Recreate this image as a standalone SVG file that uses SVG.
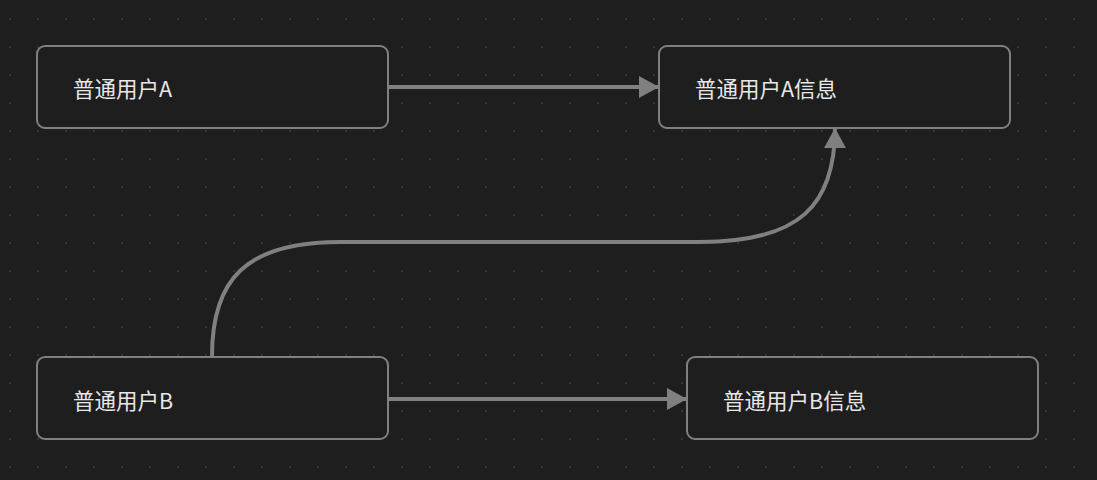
<svg xmlns="http://www.w3.org/2000/svg" width="1097" height="480" viewBox="0 0 1097 480">
<defs>
<pattern id="dots" x="9" y="18" width="28" height="28" patternUnits="userSpaceOnUse"><circle cx="1" cy="1" r="1" fill="#3a3a3a"/></pattern>
<marker id="ah2" viewBox="0 0 10 10" refX="10" refY="5" markerWidth="20" markerHeight="22" markerUnits="userSpaceOnUse" orient="auto" preserveAspectRatio="none"><path d="M0,0 L10,5 L0,10 z" fill="#808080"/></marker>
</defs>
<style>
.n rect{fill:#1e1e1e;stroke:#808080;stroke-width:2}
.n text{font-family:"Noto Sans CJK SC","Liberation Sans",sans-serif;font-size:21.5px;fill:#e8e8e8;dominant-baseline:central}
.c path{fill:none;stroke:#808080;stroke-width:4}
</style>
<rect width="1097" height="480" fill="#1e1e1e"/>
<rect width="1097" height="480" fill="url(#dots)"/>
<g class="c">
<path d="M389,87 L659,87" marker-end="url(#ah2)"/>
<path d="M389,399 L687,399" marker-end="url(#ah2)"/>
<path d="M212,356 C212,280 245,242 340,242 L700,242 C800,242 835,205 835,128" marker-end="url(#ah2)"/>
</g>
<g id="userA" class="n"><rect x="37" y="46" width="351" height="82" rx="8"/><text x="73" y="87">普通用户A</text></g>
<g id="userAinfo" class="n"><rect x="659" y="46" width="351" height="82" rx="8"/><text x="695" y="87">普通用户A信息</text></g>
<g id="userB" class="n"><rect x="37" y="357" width="351" height="82" rx="8"/><text x="73" y="399">普通用户B</text></g>
<g id="userBinfo" class="n"><rect x="687" y="357" width="351" height="82" rx="8"/><text x="723" y="399">普通用户B信息</text></g>
</svg>
